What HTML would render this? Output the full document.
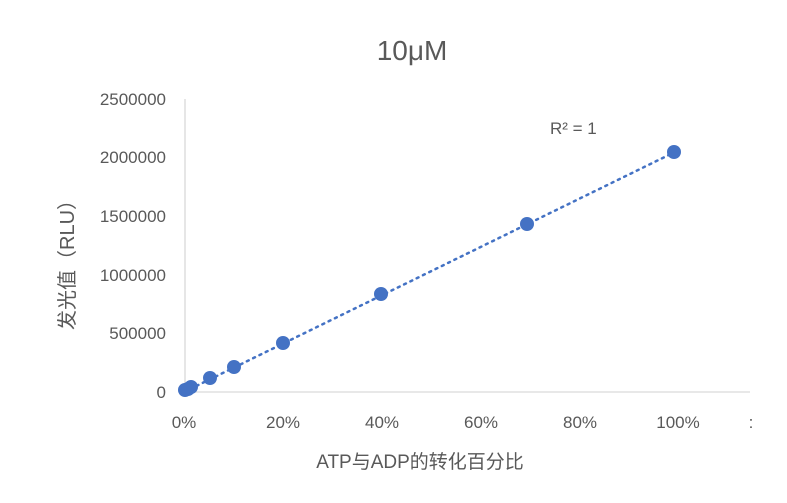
<!DOCTYPE html>
<html><head><meta charset="utf-8"><style>
body{margin:0;background:#fff;}
svg text{font-family:"Liberation Sans","Noto Sans CJK SC",sans-serif;fill:#595959;}
</style></head><body>
<svg width="787" height="498" viewBox="0 0 787 498" xmlns="http://www.w3.org/2000/svg">
<rect width="787" height="498" fill="#fff"/>
<text x="412" y="60" font-size="28" text-anchor="middle">10μM</text>
<line x1="185" y1="99" x2="185" y2="392" stroke="#d9d9d9" stroke-width="1.3"/>
<line x1="185" y1="392" x2="750" y2="392" stroke="#d9d9d9" stroke-width="1.3"/>
<g font-size="17" text-anchor="end">
<text x="166" y="398">0</text>
<text x="166" y="339">500000</text>
<text x="166" y="281">1000000</text>
<text x="166" y="222">1500000</text>
<text x="166" y="163">2000000</text>
<text x="166" y="105">2500000</text>
</g>
<g font-size="17" text-anchor="middle">
<text x="184" y="428">0%</text>
<text x="283" y="428">20%</text>
<text x="382" y="428">40%</text>
<text x="481" y="428">60%</text>
<text x="580" y="428">80%</text>
<text x="678" y="428">100%</text>
<text x="751" y="428">:</text>
</g>
<text x="420" y="468" font-size="19" text-anchor="middle">ATP与ADP的转化百分比</text>
<text transform="translate(74,260) rotate(-90)" font-size="20" text-anchor="middle">发光值（RLU）</text>
<text x="550" y="134" font-size="17">R² = 1</text>
<line x1="184" y1="392" x2="679" y2="150" stroke="#4472c4" stroke-width="2.5" stroke-dasharray="2,5" stroke-linecap="round"/>
<g fill="#4472c4">
<circle cx="185" cy="390" r="7"/>
<circle cx="188" cy="389" r="7"/>
<circle cx="191" cy="387" r="7"/>
<circle cx="210" cy="378" r="7"/>
<circle cx="234" cy="367" r="7"/>
<circle cx="283" cy="343" r="7"/>
<circle cx="381" cy="294" r="7"/>
<circle cx="527" cy="224" r="7"/>
<circle cx="674" cy="152" r="7"/>
</g>
</svg>
</body></html>
